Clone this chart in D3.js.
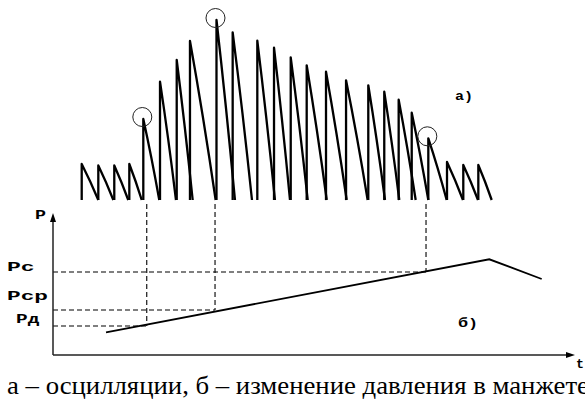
<!DOCTYPE html>
<html>
<head>
<meta charset="utf-8">
<script src="https://cdn.jsdelivr.net/npm/d3@7"></script>
<style>
  html, body { margin: 0; padding: 0; background: #fff; }
  svg { display: block; }
  .mono { font-family: "Liberation Mono", "DejaVu Sans Mono", monospace; font-weight: bold; font-size: 13px; fill: #000; }
  .caption { font-family: "Liberation Serif", "Times New Roman", serif; font-size: 25px; fill: #000; }
</style>
</head>
<body>
<svg id="chart" width="585" height="401"></svg>
<script>
// Oscillation pulses: start of rise, end of decay (time, s) and pulse amplitude
const pulseStart = [2.75, 4.34, 5.87, 7.31, 8.65, 10.25, 11.85, 13.12, 15.66, 17.21, 19.57, 21.17,
                    22.77, 24.30, 26.15, 28.07, 30.20, 31.73, 33.11, 34.36, 35.95, 37.74, 39.30, 40.74];
const pulseEnd   = [4.34, 5.78, 7.21, 8.50, 10.18, 11.78, 13.38, 15.58, 17.43, 19.06, 21.26, 22.70,
                    24.40, 26.22, 28.13, 30.14, 31.80, 33.17, 34.74, 35.95, 37.71, 39.27, 40.71, 42.02];
const pulseAmp   = [36, 34.5, 34.5, 36, 81, 118.3, 140, 159, 180, 167.7, 159.3, 152.3,
                    142.7, 134.7, 128.3, 119.7, 114.7, 108.3, 100.3, 87.3, 61.7, 38, 35, 35];

// Pulses marked with circles (indices into the arrays above)
const markedPulses = [4, 8, 20];

// Cuff pressure: time (s) and pressure
const rampT = [5.08, 41.79, 46.81];
const rampP = [22.7, 95.7, 76];

// Characteristic pressure levels and the times they are read at
const levelNames = ["Рд", "Рср", "Рс"];
const levelP     = [29, 45, 83];
const levelT     = [8.98, 15.52, 35.73];

const captionText = "а – осцилляции, б – изменение давления в манжете";

const svg = d3.select("#chart");

const x = d3.scaleLinear().domain([0, 50]).range([53, 575]);
const yOsc = d3.scaleLinear().domain([0, 180]).range([200, 20]);
const yP = d3.scaleLinear().domain([0, 142]).range([355, 213]);

// ---- a) oscillations ----
const pulses = pulseStart.map((s, i) => ({ s, e: pulseEnd[i], a: pulseAmp[i] }));

// vertical rise, then a nearly straight decay back to the baseline
const pulsePath = d => {
  const x0 = x(d.s), x1 = x(d.e), y0 = yOsc(0), yp = yOsc(d.a);
  const w = x1 - x0, h = y0 - yp;
  const p = d3.path();
  p.moveTo(x0, y0);
  p.lineTo(x0, yp);
  p.quadraticCurveTo(x0 + 0.52 * w, yp + 0.47 * h, x1, y0);
  return p.toString();
};

svg.append("g")
  .selectAll("path")
  .data(pulses)
  .join("path")
  .attr("d", pulsePath)
  .attr("fill", "none")
  .attr("stroke", "#000")
  .attr("stroke-width", 2.3)
  .attr("stroke-linejoin", "round");

svg.append("g")
  .selectAll("circle")
  .data(markedPulses)
  .join("circle")
  .attr("cx", i => x(pulses[i].s) - 1)
  .attr("cy", i => yOsc(pulses[i].a) - 2)
  .attr("r", 9.5)
  .attr("fill", "none")
  .attr("stroke", "#222")
  .attr("stroke-width", 1);

svg.append("text").attr("class", "mono")
  .attr("x", 455).attr("y", 100)
  .attr("textLength", 18).attr("lengthAdjust", "spacingAndGlyphs")
  .text("а)");

// ---- b) cuff pressure ----
const levels = levelNames.map((n, i) => ({ n, p: levelP[i], t: levelT[i] }));

// dashed guides: horizontal from the P axis, vertical up to the oscillations
const guides = svg.append("g")
  .attr("stroke", "#000")
  .attr("stroke-width", 1.1)
  .attr("stroke-dasharray", "5,3");

guides.selectAll("line.h")
  .data(levels)
  .join("line")
  .attr("class", "h")
  .attr("x1", x(0)).attr("x2", d => x(d.t))
  .attr("y1", d => yP(d.p)).attr("y2", d => yP(d.p));

guides.selectAll("line.v")
  .data(levels)
  .join("line")
  .attr("class", "v")
  .attr("x1", d => x(d.t)).attr("x2", d => x(d.t))
  .attr("y1", yOsc(0) + 4).attr("y2", d => yP(d.p));

// pressure curve
svg.append("path")
  .datum(rampT.map((t, i) => [t, rampP[i]]))
  .attr("d", d3.line().x(d => x(d[0])).y(d => yP(d[1])))
  .attr("fill", "none")
  .attr("stroke", "#000")
  .attr("stroke-width", 1.8);

// axes with arrow heads
const axisColor = "#222";
svg.append("line")
  .attr("x1", x(0)).attr("x2", x(0))
  .attr("y1", yP(0)).attr("y2", yP(142) + 6)
  .attr("stroke", axisColor).attr("stroke-width", 1.5);
svg.append("line")
  .attr("x1", x(0)).attr("x2", x(50) - 6)
  .attr("y1", yP(0)).attr("y2", yP(0))
  .attr("stroke", axisColor).attr("stroke-width", 1.5);

const yTip = [x(0), yP(142)];
svg.append("path")
  .attr("d", `M${yTip[0]},${yTip[1]} L${yTip[0] - 3},${yTip[1] + 9} L${yTip[0] + 3},${yTip[1] + 9} Z`)
  .attr("fill", "#000");
const xTip = [x(50), yP(0)];
svg.append("path")
  .attr("d", `M${xTip[0]},${xTip[1]} L${xTip[0] - 9},${xTip[1] - 3} L${xTip[0] - 9},${xTip[1] + 3} Z`)
  .attr("fill", "#000");

svg.append("text").attr("class", "mono")
  .attr("x", 35).attr("y", 219)
  .attr("textLength", 11).attr("lengthAdjust", "spacingAndGlyphs")
  .text("P");
svg.append("text").attr("class", "mono")
  .attr("x", 576).attr("y", 368)
  .attr("textLength", 8).attr("lengthAdjust", "spacingAndGlyphs")
  .text("t");

// level labels
const labelLayout = { "Рд": { x: 16, dy: -3, w: 23.3 }, "Рср": { x: 7, dy: -10, w: 41 }, "Рс": { x: 7, dy: -1, w: 27.7 } };
svg.append("g")
  .selectAll("text")
  .data(levels)
  .join("text")
  .attr("class", "mono")
  .attr("x", d => labelLayout[d.n].x)
  .attr("y", d => yP(d.p) + labelLayout[d.n].dy)
  .attr("textLength", d => labelLayout[d.n].w)
  .attr("lengthAdjust", "spacingAndGlyphs")
  .text(d => d.n);

svg.append("text").attr("class", "mono")
  .attr("x", 458).attr("y", 327)
  .attr("textLength", 20).attr("lengthAdjust", "spacingAndGlyphs")
  .text("б)");

// caption
svg.append("text").attr("class", "caption")
  .attr("x", 7).attr("y", 394)
  .attr("textLength", 582).attr("lengthAdjust", "spacingAndGlyphs")
  .text(captionText);
</script>
</body>
</html>
